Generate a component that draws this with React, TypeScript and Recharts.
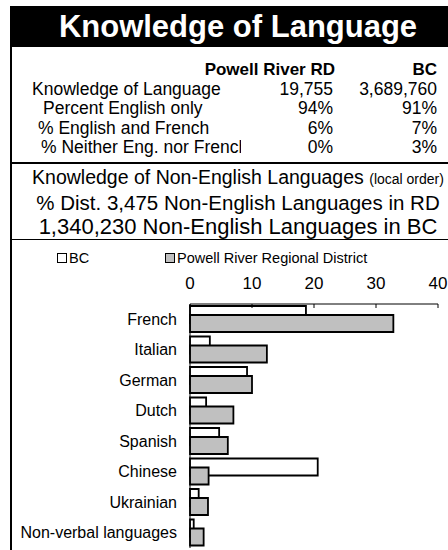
import { BarChart, Bar, XAxis, YAxis, Legend } from 'recharts';

const categories = [
  'French',
  'Italian',
  'German',
  'Dutch',
  'Spanish',
  'Chinese',
  'Ukrainian',
  'Non-verbal languages',
];
const bcValues = [18.7, 3.2, 9.2, 2.6, 4.7, 20.6, 1.4, 0.6];
const prValues = [32.8, 12.4, 10.0, 7.0, 6.1, 3.0, 2.9, 2.2];
const xTicks = [0, 10, 20, 30, 40];

const tableLabels = [
  'Knowledge of Language',
  'Percent English only',
  '% English and French',
  '% Neither Eng. nor French',
];
const tableIndent = [32, 43, 38, 41];
const prColumn = ['19,755', '94%', '6%', '0%'];
const bcColumn = ['3,689,760', '91%', '7%', '3%'];

const FONT = '"Liberation Sans", Arial, Helvetica, sans-serif';

const data = categories.map((name, i) => ({
  name,
  bc: bcValues[i],
  pr: prValues[i],
}));

function TopTick(props: any) {
  const { x, y, payload } = props;
  return (
    <g>
      <line x1={x} x2={x} y1={y} y2={y + 4} stroke="#000" />
      <text x={x} y={y - 15} textAnchor="middle" fontSize={17} fill="#000" fontFamily={FONT}>
        {payload.value}
      </text>
    </g>
  );
}

function LegendBox({ fill, label, left }: { fill: string; label: string; left: number }) {
  return (
    <div style={{ position: 'absolute', left, top: 0, display: 'flex', alignItems: 'center', whiteSpace: 'nowrap' }}>
      <span
        style={{
          display: 'inline-block',
          width: 8,
          height: 8,
          border: '1px solid #000',
          background: fill,
          marginRight: 2,
        }}
      />
      <span style={{ fontSize: 14.5, lineHeight: '16px' }}>{label}</span>
    </div>
  );
}

function renderLegend() {
  return (
    <div style={{ position: 'relative', height: 16, fontFamily: FONT }}>
      <LegendBox fill="#fff" label="BC" left={57} />
      <LegendBox fill="#c0c0c0" label="Powell River Regional District" left={165} />
    </div>
  );
}

export default function App() {
  return (
    <div
      style={{
        position: 'fixed',
        left: 0,
        top: 0,
        width: 448,
        height: 550,
        overflow: 'hidden',
        background: '#fff',
        fontFamily: FONT,
        color: '#000',
      }}
    >
      {/* title bar */}
      <div
        style={{
          position: 'absolute',
          left: 10,
          top: 6,
          width: 456,
          height: 41,
          background: '#000',
          color: '#fff',
          fontWeight: 'bold',
          fontSize: 31,
          lineHeight: '41px',
          textAlign: 'center',
        }}
      >
        Knowledge of Language
      </div>
      <div style={{ position: 'absolute', left: 10, top: 47, width: 2, height: 503, background: '#000' }} />

      {/* summary table */}
      <div style={{ position: 'absolute', top: 60, left: 0, width: 448, fontSize: 17.5, lineHeight: '19.5px' }}>
        <div style={{ position: 'relative', height: 19.5, fontWeight: 'bold', fontSize: 17 }}>
          <span style={{ position: 'absolute', right: 448 - 335 }}>Powell River RD</span>
          <span style={{ position: 'absolute', right: 448 - 437 }}>BC</span>
        </div>
        {tableLabels.map((label, i) => (
          <div key={label} style={{ position: 'relative', height: 19.5 }}>
            <span
              style={{
                position: 'absolute',
                left: tableIndent[i],
                width: 241 - tableIndent[i],
                overflow: 'hidden',
                whiteSpace: 'nowrap',
              }}
            >
              {label}
            </span>
            <span style={{ position: 'absolute', right: 448 - 333 }}>{prColumn[i]}</span>
            <span style={{ position: 'absolute', right: 448 - 437 }}>{bcColumn[i]}</span>
          </div>
        ))}
      </div>
      <div style={{ position: 'absolute', left: 10, top: 162, width: 456, height: 2, background: '#000' }} />

      {/* subtitle */}
      <div style={{ position: 'absolute', left: 10, top: 165, width: 456, textAlign: 'center' }}>
        <div style={{ fontSize: 19.5, lineHeight: '24px' }}>
          Knowledge of Non-English Languages <span style={{ fontSize: 14 }}>(local order)</span>
        </div>
        <div style={{ fontSize: 20.5, lineHeight: '24px' }}>% Dist. 3,475 Non-English Languages in RD</div>
        <div style={{ fontSize: 22, lineHeight: '24px' }}>1,340,230 Non-English Languages in BC</div>
      </div>
      <div style={{ position: 'absolute', left: 10, top: 239, width: 456, height: 1, background: '#000' }} />

      {/* bar chart */}
      <div style={{ position: 'absolute', left: 0, top: 240 }}>
        <BarChart
          width={448}
          height={310}
          data={data}
          layout="vertical"
          margin={{ top: 34, right: 10, bottom: 2, left: 0 }}
          barSize={17}
          barGap={-8}
        >
          <Legend
            content={renderLegend}
            layout="horizontal"
            verticalAlign="middle"
            align="center"
            wrapperStyle={{ top: 10, left: 0, width: 448 }}
          />
          <XAxis
            type="number"
            orientation="top"
            domain={[0, 40]}
            ticks={xTicks}
            interval={0}
            axisLine={{ stroke: '#000' }}
            tickLine={false}
            tickSize={0}
            tickMargin={0}
            tick={<TopTick />}
            height={30}
          />
          <YAxis
            type="category"
            dataKey="name"
            width={190}
            axisLine={{ stroke: '#000' }}
            tickLine={false}
            tickSize={0}
            tickMargin={13}
            interval={0}
            tick={{ fontSize: 16, fill: '#000', fontFamily: FONT }}
          />
          <Bar dataKey="bc" name="BC" fill="#ffffff" stroke="#000" strokeWidth={1.8} isAnimationActive={false} />
          <Bar
            dataKey="pr"
            name="Powell River Regional District"
            fill="#c0c0c0"
            stroke="#000"
            strokeWidth={1.8}
            isAnimationActive={false}
          />
        </BarChart>
      </div>
    </div>
  );
}
